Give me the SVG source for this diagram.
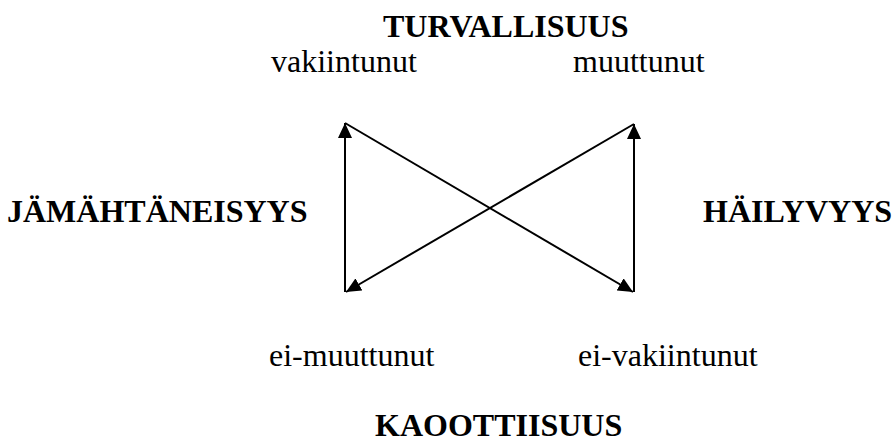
<svg xmlns="http://www.w3.org/2000/svg" width="896" height="442" viewBox="0 0 896 442">
  <style>
    .t { font-family: "Liberation Serif", "Times New Roman", serif; font-size: 32px; fill: #000; }
    .b { font-weight: bold; }
    .c { stroke: #000; stroke-width: 2; fill: none; }
  </style>
  <defs>
    <marker id="ah" markerUnits="userSpaceOnUse" markerWidth="16" markerHeight="14" refX="15" refY="7" orient="auto">
      <path d="M0,0 L15,7 L0,14 Z" fill="#000"/>
    </marker>
  </defs>
  <rect width="896" height="442" fill="#fff"/>
  <g id="connectors">
    <line class="c" x1="345" y1="292" x2="345" y2="123" marker-end="url(#ah)"/>
    <line class="c" x1="634" y1="292" x2="634" y2="124" marker-end="url(#ah)"/>
    <line class="c" x1="345" y1="123" x2="633" y2="292" marker-end="url(#ah)"/>
    <line class="c" x1="634" y1="124" x2="346" y2="292" marker-end="url(#ah)"/>
  </g>
  <g id="turvallisuus"><text class="t b" x="383" y="37">TURVALLISUUS</text></g>
  <g id="vakiintunut"><text class="t" x="271" y="72">vakiintunut</text></g>
  <g id="muuttunut"><text class="t" x="573" y="72">muuttunut</text></g>
  <g id="jamahtaneisyys"><text class="t b" x="7" y="222">JÄMÄHTÄNEISYYS</text></g>
  <g id="hailyvyys"><text class="t b" x="703" y="222">HÄILYVYYS</text></g>
  <g id="ei-muuttunut"><text class="t" x="269" y="366">ei-muuttunut</text></g>
  <g id="ei-vakiintunut"><text class="t" x="578" y="366">ei-vakiintunut</text></g>
  <g id="kaoottiisuus"><text class="t b" x="375" y="436">KAOOTTIISUUS</text></g>
</svg>
